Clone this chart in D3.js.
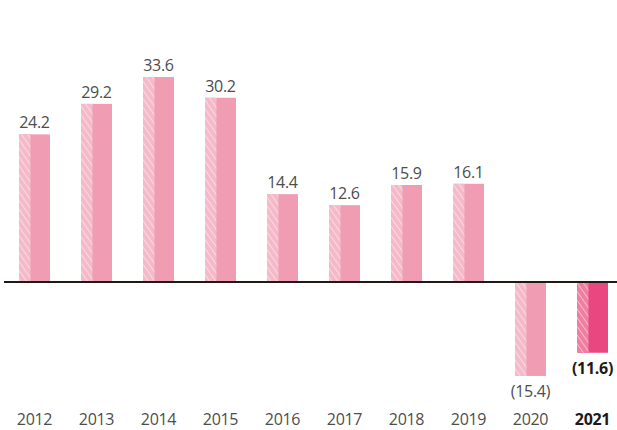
<!DOCTYPE html>
<html>
<head>
<meta charset="utf-8">
<script src="https://cdn.jsdelivr.net/npm/d3@7"></script>
<style>
  body { margin: 0; background: #fff; }
  text { font-family: "Open Sans", sans-serif; }
</style>
</head>
<body>
<div id="chart-container"></div>
<script>
// Chart data
const years = ['2012', '2013', '2014', '2015', '2016', '2017', '2018', '2019', '2020', '2021'];
const values = [24.2, 29.2, 33.6, 30.2, 14.4, 12.6, 15.9, 16.1, -15.4, -11.6];
const valueLabels = ['24.2', '29.2', '33.6', '30.2', '14.4', '12.6', '15.9', '16.1', '(15.4)', '(11.6)'];
const highlightYear = '2021';

const svgWidth = 617;
const svgHeight = 430;

const svg = d3.select('#chart-container')
  .append('svg')
  .attr('width', svgWidth)
  .attr('height', svgHeight);

// Hatch patterns for the left strip of each bar
const defs = svg.append('defs');
function addHatch(id, bg) {
  const p = defs.append('pattern')
    .attr('id', id)
    .attr('patternUnits', 'userSpaceOnUse')
    .attr('width', 5)
    .attr('height', 5)
    .attr('patternTransform', 'rotate(-35)');
  p.append('rect').attr('width', 5).attr('height', 5).attr('fill', bg);
  p.append('line')
    .attr('x1', 0).attr('y1', 0).attr('x2', 0).attr('y2', 5)
    .attr('stroke', '#fff').attr('stroke-width', 1.3).attr('stroke-opacity', 0.7);
}
addHatch('hatch', '#f5b9c9');
addHatch('hatch-hi', '#ef7ea2');

// Scales
const xScale = d3.scaleBand()
  .domain(years)
  .range([3.5, 623.5])
  .paddingInner(0.5)
  .paddingOuter(0.25);

const yScale = d3.scaleLinear()
  .domain([-20, 40])
  .range([404, 38]);

const bw = xScale.bandwidth();
const stripW = bw * 0.37;

const bars = svg.selectAll('.bar')
  .data(years.map((y, i) => ({ year: y, value: values[i], label: valueLabels[i] })))
  .enter()
  .append('g')
  .attr('class', 'bar');

// solid part
bars.append('rect')
  .attr('x', d => xScale(d.year))
  .attr('y', d => yScale(Math.max(0, d.value)))
  .attr('width', bw)
  .attr('height', d => Math.abs(yScale(d.value) - yScale(0)))
  .attr('fill', d => d.year === highlightYear ? '#e8487f' : '#f09db3');

// hatched strip
bars.append('rect')
  .attr('x', d => xScale(d.year))
  .attr('y', d => yScale(Math.max(0, d.value)))
  .attr('width', stripW)
  .attr('height', d => Math.abs(yScale(d.value) - yScale(0)))
  .attr('fill', d => d.year === highlightYear ? 'url(#hatch-hi)' : 'url(#hatch)');

// value labels
bars.append('text')
  .attr('x', d => xScale(d.year) + bw / 2)
  .attr('y', d => d.value >= 0 ? yScale(d.value) - 6 : yScale(d.value) + 21)
  .attr('text-anchor', 'middle')
  .style('font-size', '16px')
  .style('letter-spacing', '-0.3px')
  .style('font-weight', d => d.year === highlightYear ? 700 : 400)
  .style('fill', d => d.year === highlightYear ? '#231815' : '#4d4d4d')
  .text(d => d.label);

// zero line
svg.append('line')
  .attr('x1', 4)
  .attr('x2', svgWidth)
  .attr('y1', yScale(0))
  .attr('y2', yScale(0))
  .attr('stroke', '#231815')
  .attr('stroke-width', 1.8);

// year axis
const xAxis = svg.append('g')
  .attr('transform', 'translate(0,' + 409 + ')')
  .call(d3.axisBottom(xScale).tickSize(0).tickPadding(0));
xAxis.select('.domain').remove();
xAxis.selectAll('text')
  .attr('dy', '1em')
  .style('font-size', '16px')
  .style('letter-spacing', '-0.3px')
  .style('font-family', '"Open Sans", sans-serif')
  .style('font-weight', d => d === highlightYear ? 700 : 400)
  .style('fill', d => d === highlightYear ? '#231815' : '#4d4d4d');
</script>
</body>
</html>
